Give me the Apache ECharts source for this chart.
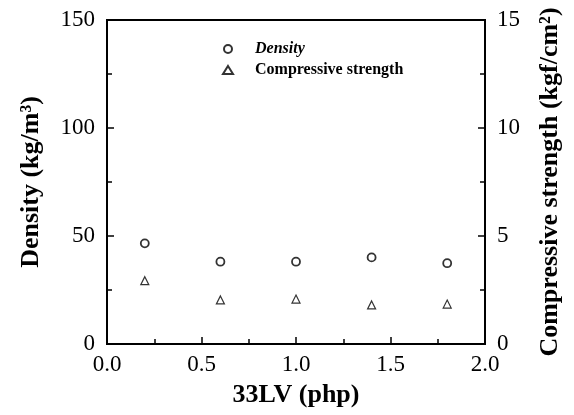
<!DOCTYPE html>
<html>
<head>
<meta charset="utf-8">
<script src="https://cdn.jsdelivr.net/npm/echarts@6/dist/echarts.min.js"></script>
<style>
  html, body { margin: 0; padding: 0; background: #fff; }
  #chart { width: 574px; height: 415px; }
</style>
</head>
<body>
<div id="chart"></div>
<script>
// data
const lvContent = [0.2, 0.6, 1.0, 1.4, 1.8];
const density = [46.6, 38.1, 38.1, 40.1, 37.4];
const compStrength = [2.93, 2.04, 2.08, 1.81, 1.85];

const font = 'Liberation Serif';

const myChart = echarts.init(document.getElementById('chart'));

const tickStyle = { show: true, inside: true, length: 7, lineStyle: { color: '#000', width: 1.5 } };
const minorStyle = { show: true, splitNumber: 2, length: 5, lineStyle: { color: '#000', width: 1.5 } };
const labelStyle = { fontFamily: font, fontSize: 23, color: '#000' };
const nameStyle = { fontFamily: font, fontSize: 26, fontWeight: 'bold', color: '#000' };

let option = {
  animation: false,
  grid: {
    left: 107, right: 89, top: 20, bottom: 71,
    show: true, borderColor: '#000', borderWidth: 2, backgroundColor: 'transparent'
  },
  legend: {
    orient: 'vertical',
    left: 217,
    top: 36,
    itemGap: 5,
    itemWidth: 10,
    itemHeight: 8,
    data: ['Density', 'Compressive strength'],
    formatter: function (name) {
      return name === 'Density' ? '{a|' + name + '}' : '{b|' + name + '}';
    },
    textStyle: {
      rich: {
        a: { fontFamily: font, fontSize: 16, fontWeight: 'bold', fontStyle: 'italic', color: '#000', padding: [0, 0, 0, 17] },
        b: { fontFamily: font, fontSize: 16, fontWeight: 'bold', color: '#000', padding: [0, 0, 0, 17] }
      }
    }
  },
  xAxis: {
    type: 'value',
    min: 0, max: 2, interval: 0.5,
    name: '33LV (php)',
    nameLocation: 'middle',
    nameGap: 38,
    nameTextStyle: nameStyle,
    axisLine: { show: true, lineStyle: { color: '#000', width: 2 } },
    axisTick: tickStyle,
    minorTick: minorStyle,
    splitLine: { show: false },
    axisLabel: Object.assign({ margin: 9, formatter: v => v.toFixed(1) }, labelStyle)
  },
  yAxis: [
    {
      type: 'value',
      min: 0, max: 150, interval: 50,
      name: 'Density (kg/m³)',
      nameLocation: 'middle',
      nameGap: 63,
      nameTextStyle: nameStyle,
      axisLine: { show: true, lineStyle: { color: '#000', width: 2 } },
      axisTick: tickStyle,
      minorTick: minorStyle,
      splitLine: { show: false },
      axisLabel: Object.assign({ margin: 12 }, labelStyle)
    },
    {
      type: 'value',
      position: 'right',
      min: 0, max: 15, interval: 5,
      name: 'Compressive strength (kgf/cm²)',
      nameLocation: 'middle',
      nameGap: 52,
      nameRotate: 90,
      nameTextStyle: nameStyle,
      axisLine: { show: true, lineStyle: { color: '#000', width: 2 } },
      axisTick: tickStyle,
      minorTick: minorStyle,
      splitLine: { show: false },
      axisLabel: Object.assign({ margin: 12 }, labelStyle)
    }
  ],
  series: [
    {
      name: 'Density',
      type: 'scatter',
      yAxisIndex: 0,
      symbol: 'circle',
      symbolSize: 8,
      itemStyle: { color: '#fff', borderColor: '#000', borderWidth: 1.8 },
      data: lvContent.map((x, i) => [x, density[i]])
    },
    {
      name: 'Compressive strength',
      type: 'scatter',
      yAxisIndex: 1,
      symbol: 'triangle',
      symbolSize: 8,
      itemStyle: { color: '#fff', borderColor: '#000', borderWidth: 1.2 },
      data: lvContent.map((x, i) => [x, compStrength[i]])
    }
  ]
};

myChart.setOption(option);
</script>
</body>
</html>
